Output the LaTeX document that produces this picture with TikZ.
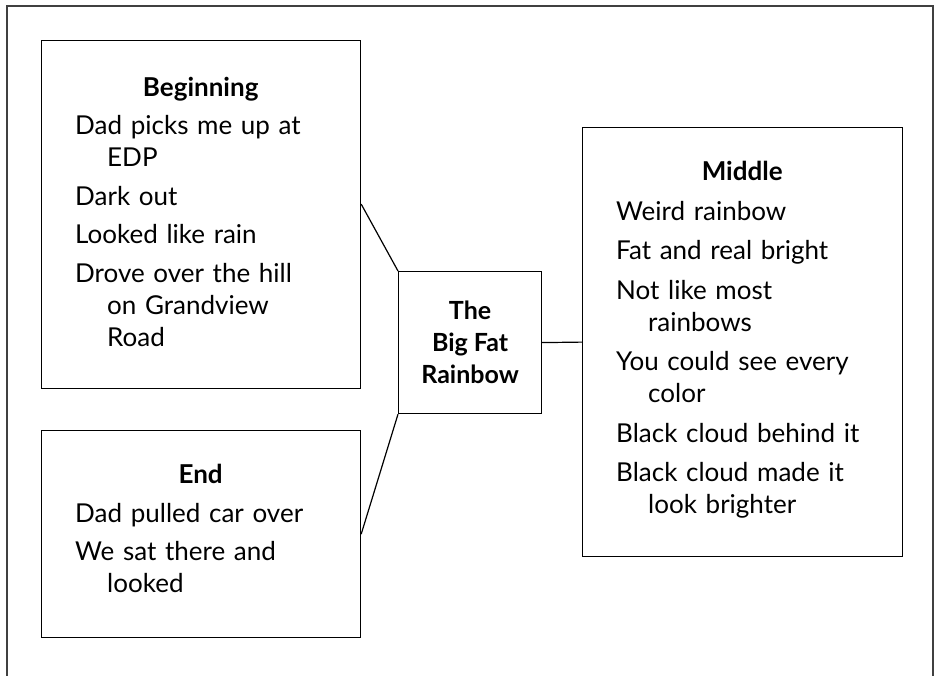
\documentclass[tikz,border=0pt]{standalone}
\usepackage{fontspec}
\setmainfont{Lato}
\usetikzlibrary{calc}

% one event: first line flush left, continuation lines indented
\newcommand\storyitem[1]{\par\hangindent=32pt\hangafter=1\noindent #1\par}
% heading centred across the whole box (box width, left padding)
\newcommand\storyhead[3]{\noindent\hspace*{-#3}\makebox[#2]{\bfseries #1}\par}

\tikzset{
  frameline/.style={draw=black!75, line width=1.5pt},
  storybox/.style={draw=black, line width=1.2pt, rectangle, inner sep=0pt, anchor=north west},
  storytext/.style={anchor=north west, inner sep=0pt, text width=285pt,
    font=\fontsize{26}{32}\selectfont},
  link/.style={draw=black, line width=1.2pt},
}

\begin{document}
\begin{tikzpicture}[x=1pt, y=-1pt]
\useasboundingbox (0,0) rectangle (937,676);

% page frame, open at the bottom
\draw[frameline] (7,676) -- (7,6) -- (933,6) -- (933,676);

% boxes
\node[storybox, minimum width=319pt, minimum height=348pt] (beg) at (41,40) {};
\node[storybox, minimum width=319pt, minimum height=207pt] (fin) at (41,430) {};
\node[storybox, minimum width=320pt, minimum height=429pt] (mid) at (582,127) {};
\node[storybox, minimum width=143pt, minimum height=142pt, align=center,
      font=\fontsize{25}{32}\selectfont\bfseries] (ctr) at (398,271)
      {The\\Big Fat\\Rainbow};

% box contents
\node[storytext] (begtxt) at (75,77) {\setlength{\parskip}{6.5pt}%
  \storyhead{Beginning}{319pt}{34pt}
  \storyitem{Dad picks me up at\newline EDP}
  \storyitem{Dark out}
  \storyitem{Looked like rain}
  \storyitem{Drove over the hill\newline on Grandview\newline Road}};

\node[storytext] (fintxt) at (75,464) {\setlength{\parskip}{6.5pt}%
  \storyhead{End}{319pt}{34pt}
  \storyitem{Dad pulled car over}
  \storyitem{We sat there and\newline looked}};

\node[storytext] (midtxt) at (616,161) {\setlength{\parskip}{7.5pt}%
  \storyhead{Middle}{320pt}{34pt}
  \storyitem{Weird rainbow}
  \storyitem{Fat and real bright}
  \storyitem{Not like most\newline rainbows}
  \storyitem{You could see every\newline color}
  \storyitem{Black cloud behind it}
  \storyitem{Black cloud made it\newline look brighter}};

% connectors
\draw[link] ($(beg.north east)!0.47!(beg.south east)$) -- (ctr.north west);
\draw[link] (fin.east) -- (ctr.south west);
\draw[link] (ctr.east) -- (mid.west);
\end{tikzpicture}
\end{document}
